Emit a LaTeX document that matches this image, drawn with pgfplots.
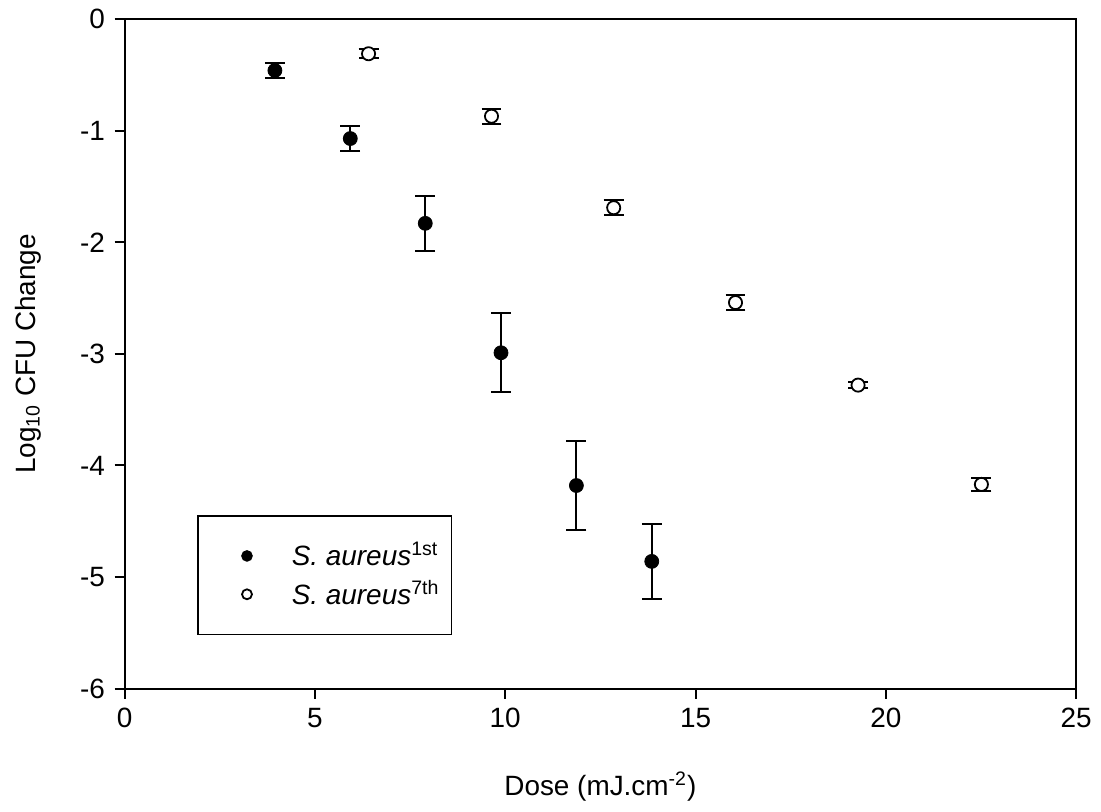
\documentclass[border=0pt]{standalone}
\usepackage{pgfplots}
\pgfplotsset{compat=1.18}
\usepackage{fontspec}
\setmainfont{Liberation Sans}

\begin{document}
\fontsize{14}{16.8}\selectfont
\begin{tikzpicture}
  \begin{axis}[
    name=main,
    scale only axis,
    width=477.5pt,
    height=335.9pt,
    xmin=0, xmax=25,
    ymin=-6, ymax=0,
    xtick={0,5,...,25},
    ytick={-6,-5,...,0},
    tick align=outside,
    xtick pos=lower,
    ytick pos=left,
    major tick length=5pt,
    axis line style={line width=1pt},
    tick style={line width=1pt, black},
    /pgf/number format/assume math mode=true,
    tick label style={font=\fontsize{14}{16.8}\selectfont},
    label style={font=\fontsize{14}{16.8}\selectfont},
    xlabel={Dose (mJ.cm\textsuperscript{-2})},
    ylabel={Log\textsubscript{10} CFU Change},
    xlabel style={yshift=-12.5pt},
    ylabel style={yshift=10pt},
    legend style={
      at={(0.0765,0.259)}, anchor=north west,
      draw=black, line width=0.8pt,
      inner xsep=4pt, inner ysep=11pt,
      row sep=1pt,
      font=\fontsize{14}{16.8}\selectfont,
      cells={anchor=west, inner ysep=1pt},
    },
    legend image code/.code={
      \path[draw=none, fill=none] (0pt,0pt) -- (41pt,0pt);
      \draw[#1, mark size=2.5pt] plot coordinates {(20.5pt,0pt)};
    },
  ]
    % S. aureus 1st (filled)
    \addplot[
      only marks, mark=*, mark size=3.5pt, black,
      error bars/.cd, y dir=both, y explicit,
      error bar style={line width=1pt},
      error mark options={rotate=90, mark size=5pt, line width=1pt}
    ] table[x=x, y=y, y error=e] {
      x     y      e
      3.95  -0.46  0.07
      5.93  -1.07  0.11
      7.90  -1.83  0.245
      9.89  -2.99  0.353
      11.87 -4.18  0.395
      13.85 -4.86  0.338
    };
    \addlegendentry{\textit{S. aureus}\textsuperscript{1st}}

    % S. aureus 7th (open)
    \addplot[
      only marks, mark=*, mark size=3.3pt, black,
      mark options={fill=white, line width=0.9pt},
      error bars/.cd, y dir=both, y explicit,
      error bar style={line width=1pt},
      error mark options={rotate=90, mark size=5pt, line width=1pt}
    ] table[x=x, y=y, y error=e] {
      x     y      e
      6.41  -0.31  0.04
      9.64  -0.87  0.067
      12.85 -1.69  0.067
      16.05 -2.54  0.07
      19.27 -3.28  0.03
      22.51 -4.17  0.055
    };
    \addlegendentry{\textit{S. aureus}\textsuperscript{7th}}
  \end{axis}
  \path ([yshift=9.5pt]main.north);
  \path ([xshift=-62.5pt]main.west);
  \path ([yshift=-57.6pt]main.south);
  \path ([xshift=10.5pt]main.east);
\end{tikzpicture}
\end{document}
